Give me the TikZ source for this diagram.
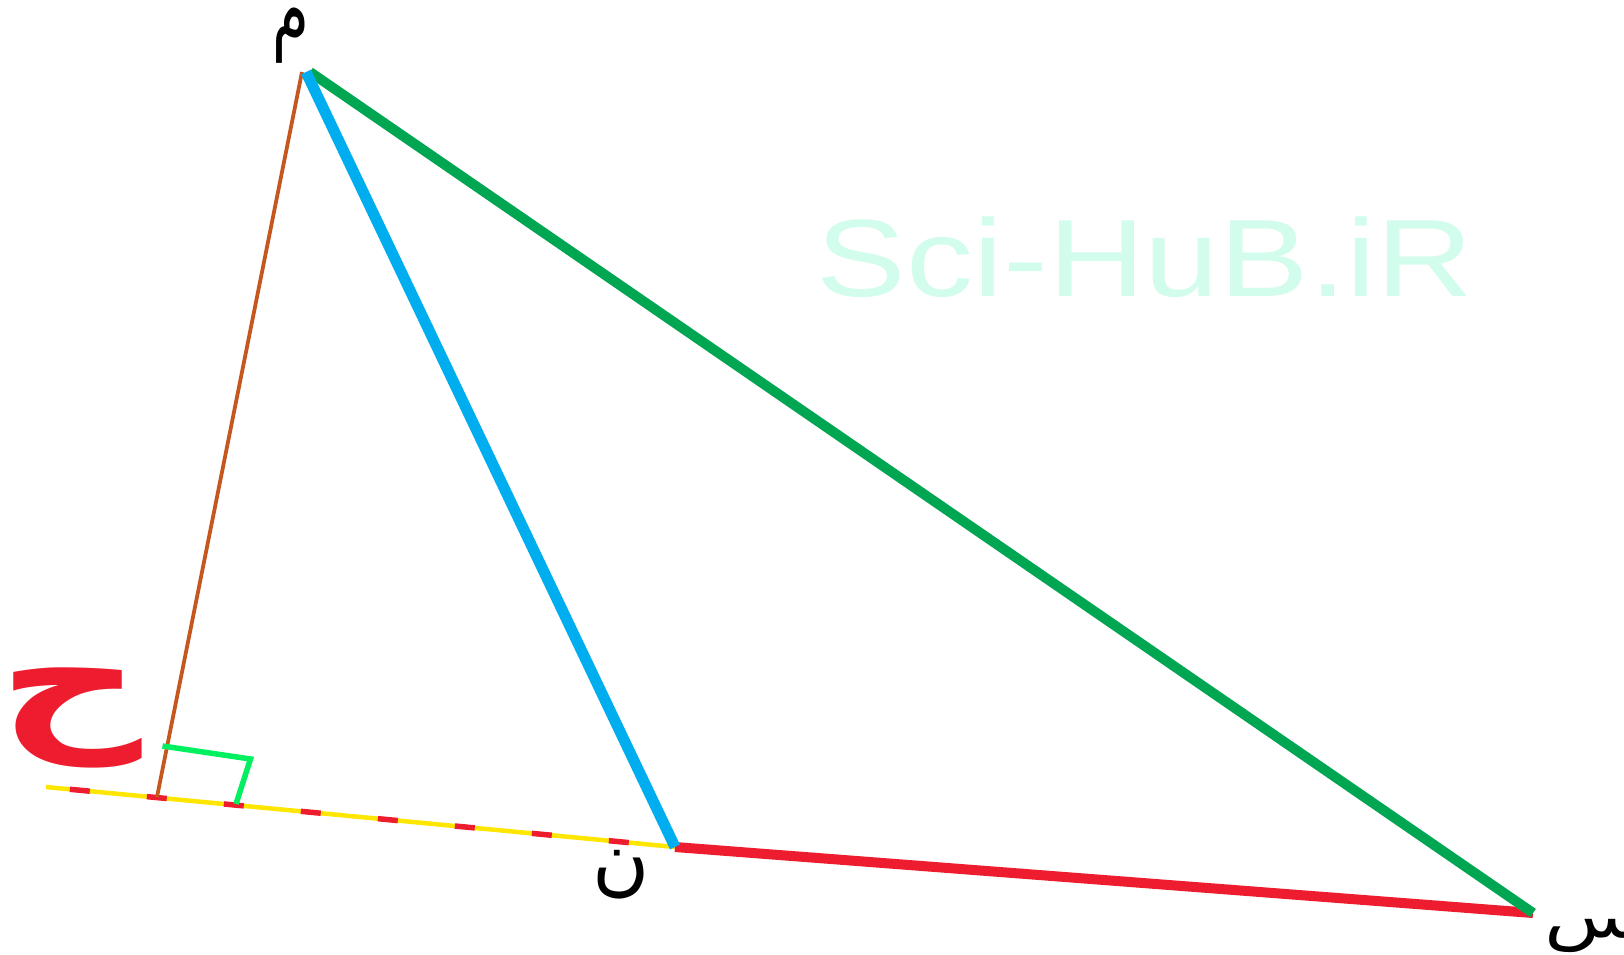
\documentclass[tikz,border=0pt]{standalone}
\usepackage{fontspec}
\newfontfamily\arabicfont[Script=Arabic]{DejaVu Sans}
\newfontfamily\wmfont{Liberation Sans}
\TeXXeTstate=1
\definecolor{cblue}{HTML}{00AEEF}
\definecolor{cgreen}{HTML}{00A651}
\definecolor{cred}{HTML}{ED1C2E}
\definecolor{cbrown}{HTML}{C4581E}
\definecolor{cyellow}{HTML}{FFE600}
\definecolor{cmark}{HTML}{00F060}
\definecolor{cwm}{HTML}{D2FCEB}
\tikzset{
  lbl/.style={inner sep=0pt, text=black},
  side/.style={line width=#1},
}
\begin{document}
\begin{tikzpicture}[x=1pt,y=-1pt]
\useasboundingbox (0,0) rectangle (1624,954);
% watermark
\node[inner sep=0pt, text=cwm] (wm) at (1145,257) {\scalebox{1.22}[1]{\wmfont\fontsize{110}{110}\selectfont Sci-HuB.iR}};
% points
\coordinate (M) at (306,72);
\coordinate (N) at (675,847);
\coordinate (S) at (1533,913);
\coordinate (H) at (157,797);
\coordinate (L) at (46,787);
\coordinate (K1) at (162.5,746);
\coordinate (K2) at (250.5,759);
\coordinate (K3) at (236,804);
% base extension (yellow with red dashes)
\draw[cyellow, line width=4.5pt] (L) -- (N);
\draw[cred, line width=5.5pt, dash pattern=on 20pt off 57.35pt, dash phase=53.4pt] (L) -- (N);
% altitude
\draw[cbrown, line width=3.8pt] (M) ++(-4,0) -- (H);
% right-angle mark
\draw[cmark, line width=5.5pt] (K1) -- (K2) -- (K3);
% triangle sides
\draw[cred, side=10pt] (N) -- (S);
\draw[cgreen, side=10pt] (M) ++(4,0) -- (S);
\draw[cblue, side=11pt] (M) -- (N);
% labels
\node[lbl] (mlab) at (291,36) {\scalebox{0.85}[1.3]{\arabicfont\fontsize{70}{70}\selectfont\beginR م\endR}};
\node[lbl] (nlab) at (621.5,875) {\arabicfont\fontsize{78}{80}\selectfont\beginR ن\endR};
\node[lbl, anchor=west] (slab) at (1544,934) {\scalebox{1.3}[1]{\arabicfont\fontsize{62}{62}\selectfont\beginR س\endR}};
\node[lbl, text=cred] (hlab) at (70,718) {\scalebox{1.33}[1]{\arabicfont\bfseries\fontsize{150}{150}\selectfont\beginR ح\endR}};
\end{tikzpicture}
\end{document}
